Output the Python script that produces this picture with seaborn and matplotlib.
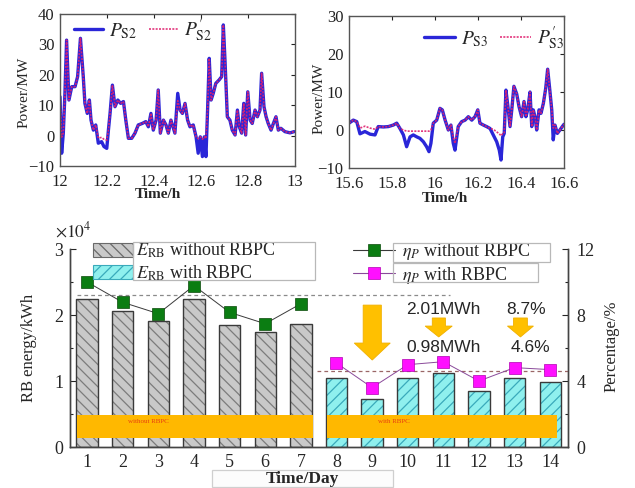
import numpy as np
import pandas as pd
import matplotlib
matplotlib.use("Agg")
import matplotlib.pyplot as plt
import seaborn as sns
from matplotlib.patches import Patch, Polygon, Rectangle
from matplotlib.lines import Line2D
from matplotlib.ticker import FuncFormatter

# ---------------- data ----------------
t_s2 = [12.000, 12.007, 12.014, 12.021, 12.028, 12.038, 12.050, 12.064, 12.075, 12.087,
        12.099, 12.106, 12.116, 12.125, 12.132, 12.142, 12.152, 12.163, 12.177, 12.187,
        12.199, 12.206, 12.213, 12.223, 12.234, 12.246, 12.258, 12.270, 12.280, 12.291,
        12.305, 12.319, 12.333, 12.350, 12.365, 12.376, 12.387, 12.397, 12.409, 12.418,
        12.427, 12.440, 12.451, 12.461, 12.472, 12.489, 12.501, 12.511, 12.521, 12.532,
        12.543, 12.553, 12.567, 12.579, 12.588, 12.597, 12.606, 12.614, 12.621, 12.628,
        12.635, 12.643, 12.652, 12.663, 12.677, 12.688, 12.695, 12.702, 12.712, 12.723,
        12.733, 12.745, 12.755, 12.763, 12.773, 12.782, 12.790, 12.799, 12.809, 12.818,
        12.830, 12.840, 12.851, 12.858, 12.868, 12.877, 12.886, 12.898, 12.908, 12.919,
        12.929, 12.940, 12.957, 12.979, 12.996]
p_s2 = [12.8, -5.8, 0.7, 13.9, 31.4, 11.7, 16.1, 16.1, 19.4, 32.0,
        19.4, 10.6, 7.3, 11.7, 5.1, 1.8, 3.5, -2.5, -2.0, -3.6,
        -4.2, 1.8, 7.3, 16.6, 9.5, 11.7, 10.6, 11.2, 5.1, -0.9,
        -0.9, 0.8, 3.5, 4.0, 4.6, 2.9, 7.3, 1.8, 5.1, 15.0,
        0.8, 5.1, 3.5, 0.8, 5.1, 0.8, 13.9, 8.4, 7.3, 10.6,
        5.1, 2.9, 3.5, -0.4, -5.8, -0.4, -6.9, -0.4, -6.9, 8.4,
        25.4, 11.7, 13.9, 17.2, 18.3, 19.4, 36.4, 24.9, 6.2, 5.1,
        1.8, 0.2, 8.4, 2.9, 0.8, 10.6, 0.2, 14.4, 5.1, 4.0,
        8.4, 6.2, 8.4, 20.5, 9.5, 6.2, 4.0, 1.8, 4.0, 6.2,
        1.8, 2.4, 1.3, 0.9, 1.3]
p_s2_prime = [12.8, -0.5, 0.7, 13.9, 31.4, 11.7, 16.1, 16.1, 19.4, 32.0,
              19.4, 10.6, 7.3, 11.7, 5.1, 1.8, 3.5, -0.8, -0.6, -1.2,
              -1.5, 1.8, 7.3, 16.6, 9.5, 11.7, 10.6, 11.2, 5.1, -0.9,
              -0.9, 0.8, 3.5, 4.0, 4.6, 2.9, 7.3, 1.8, 5.1, 15.0,
              0.8, 5.1, 3.5, 0.8, 5.1, 0.8, 11.5, 8.4, 7.3, 10.6,
              5.1, 2.9, 3.5, -0.4, -1.0, -0.4, -1.2, -0.4, -1.0, 8.4,
              25.4, 11.7, 13.9, 17.2, 18.3, 19.4, 36.4, 24.9, 6.2, 5.1,
              1.8, 0.2, 8.4, 2.9, 0.8, 10.6, 0.2, 14.4, 5.1, 4.0,
              8.4, 6.2, 8.4, 20.5, 9.5, 6.2, 4.0, 1.8, 4.0, 6.2,
              1.8, 2.4, 1.3, 0.9, 1.3]

t_s3 = [15.600, 15.620, 15.636, 15.651, 15.674, 15.698, 15.721, 15.736, 15.760, 15.783,
        15.806, 15.822, 15.837, 15.853, 15.868, 15.884, 15.899, 15.915, 15.930, 15.946,
        15.961, 15.972, 15.981, 15.992, 16.008, 16.023, 16.034, 16.047, 16.062, 16.074,
        16.085, 16.093, 16.108, 16.124, 16.140, 16.155, 16.171, 16.186, 16.199, 16.209,
        16.225, 16.240, 16.256, 16.271, 16.287, 16.299, 16.307, 16.315, 16.322, 16.330,
        16.341, 16.349, 16.357, 16.367, 16.380, 16.391, 16.403, 16.414, 16.423, 16.431,
        16.442, 16.450, 16.457, 16.465, 16.473, 16.484, 16.493, 16.504, 16.515, 16.524,
        16.534, 16.543, 16.550, 16.558, 16.569, 16.581, 16.592, 16.600]
p_s3 = [1.8, 2.6, 2.2, -1.0, -0.4, -1.1, -1.3, 0.9, 0.8, 0.9,
        1.3, 1.8, 0.4, -1.3, -4.4, -1.8, -1.3, -1.8, -2.2, -3.1,
        -4.4, -5.7, -3.5, 1.8, 2.6, 5.7, 5.3, 2.6, 0.0, 1.3,
        -3.5, -5.3, 0.9, 2.2, 2.6, 3.5, 2.6, 3.5, 5.3, 1.8,
        1.3, 0.9, 0.4, -1.3, -3.1, -5.3, -7.9, -1.8, -0.9, 10.5,
        5.3, 0.9, 5.3, 11.5, 9.5, 6.1, 3.5, 7.5, 3.5, 5.3,
        10.0, 0.9, 5.3, 3.5, 0.0, 5.3, 4.4, 7.0, 11.0, 16.0,
        10.5, 5.3, -2.6, 1.3, -0.9, 0.0, 0.9, 1.5]
p_s3_prime = [1.8, 2.6, 2.2, 0.5, 1.0, 0.5, 0.2, 0.9, 0.8, 0.9,
              1.3, 1.8, 0.4, 0.0, -0.3, -0.3, -0.3, -0.3, -0.3, -0.3,
              -0.3, -0.3, 0.0, 1.8, 2.6, 5.7, 5.3, 2.6, 0.0, 1.3,
              -2.0, -3.5, 0.9, 2.2, 2.6, 3.5, 2.6, 3.5, 5.3, 1.8,
              1.3, 0.9, 0.4, 0.2, -0.5, -1.0, -1.5, -1.0, -0.9, 10.5,
              5.3, 0.9, 5.3, 11.5, 9.5, 6.1, 3.5, 7.5, 3.5, 5.3,
              10.0, 0.9, 5.3, 3.5, 0.0, 5.3, 4.4, 7.0, 11.0, 16.0,
              10.5, 5.3, 0.5, 1.3, -0.9, 0.0, 0.9, 1.5]

s2_xticks = [12, 12.2, 12.4, 12.6, 12.8, 13]
s2_xticklabels = ["12", "12.2", "12.4", "12.6", "12.8", "13"]
s2_yticks = [-10, 0, 10, 20, 30, 40]
s3_xticks = [15.6, 15.8, 16.0, 16.2, 16.4, 16.6]
s3_xticklabels = ["15.6", "15.8", "16", "16.2", "16.4", "16.6"]
s3_yticks = [-10, 0, 10, 20, 30]

days_without = [1, 2, 3, 4, 5, 6, 7]
days_with = [8, 9, 10, 11, 12, 13, 14]
energy_without = [22400, 20600, 19100, 22400, 18500, 17400, 18700]   # kWh
energy_with = [10400, 7200, 10400, 11200, 8500, 10400, 9800]         # kWh
eta_without = [10.0, 8.77, 8.08, 9.78, 8.16, 7.47, 8.68]             # %
eta_with = [5.09, 3.6, 4.99, 5.17, 4.0, 4.81, 4.69]                  # %
ref_without = 9.2
ref_with = 4.62

# ---------------- style ----------------
sns.set_theme(style="white")
plt.rcParams["font.family"] = ["Liberation Serif", "DejaVu Serif"]
plt.rcParams["mathtext.fontset"] = "stix"
plt.rcParams["hatch.linewidth"] = 0.9
plt.rcParams["axes.edgecolor"] = "#333333"
plt.rcParams["axes.linewidth"] = 1.0

W, H = 635, 488
fig = plt.figure(figsize=(W / 100, H / 100), dpi=100)


def fax(l, t, r, b):
    return fig.add_axes([l / W, 1 - b / H, (r - l) / W, (b - t) / H])


def fp(x, y):
    return (x / W, 1 - y / H)


BLUE = "#2a26d8"
RED = "#e0206e"

# ---------------- top-left ----------------
ax1 = fax(60, 14, 295, 166)
df2 = pd.DataFrame({"t": t_s2, "P": p_s2, "Pp": p_s2_prime})
sns.lineplot(data=df2, x="t", y="P", ax=ax1, color=BLUE, lw=2.4,
             label=r"$P_{\mathrm{S2}}$")
sns.lineplot(data=df2, x="t", y="Pp", ax=ax1, color=RED, lw=1.2, alpha=0.9,
             linestyle=(0, (1.2, 0.8)), label=r"$P_{\mathrm{S2}}^{\prime}$")
ax1.set_xlim(12, 13)
ax1.set_ylim(-10, 40)
ax1.set_xticks(s2_xticks)
ax1.set_xticklabels(s2_xticklabels)
ax1.set_yticks(s2_yticks)
ax1.set_xlabel("")
ax1.set_ylabel("")
ax1.legend(loc="upper left", bbox_to_anchor=fp(74, 17), bbox_transform=fig.transFigure,
           ncol=2, frameon=False, fontsize=14, handlelength=1.5, columnspacing=0.6,
           handletextpad=0.3, borderpad=0, borderaxespad=0)

# ---------------- top-right ----------------
ax2 = fax(349, 16, 564, 168)
df3 = pd.DataFrame({"t": t_s3, "P": p_s3, "Pp": p_s3_prime})
sns.lineplot(data=df3, x="t", y="P", ax=ax2, color=BLUE, lw=2.4,
             label=r"$P_{\mathrm{S3}}$")
sns.lineplot(data=df3, x="t", y="Pp", ax=ax2, color=RED, lw=1.2, alpha=0.9,
             linestyle=(0, (1.2, 0.8)), label=r"$P_{\mathrm{S3}}^{\prime}$")
ax2.set_xlim(15.6, 16.6)
ax2.set_ylim(-10, 30)
ax2.set_xticks(s3_xticks)
ax2.set_xticklabels(s3_xticklabels)
ax2.set_yticks(s3_yticks)
ax2.set_xlabel("")
ax2.set_ylabel("")
ax2.legend(loc="upper left", bbox_to_anchor=fp(424, 25), bbox_transform=fig.transFigure,
           ncol=2, frameon=False, fontsize=14, handlelength=1.6, columnspacing=0.6,
           handletextpad=0.3, borderpad=0, borderaxespad=0)

for ax in (ax1, ax2):
    ax.tick_params(direction="in", top=True, right=True, length=3, width=0.8,
                   labelsize=12, colors="#222222")
    ax.tick_params(axis="x", pad=5.5)
    ax.tick_params(axis="y", pad=4)
    for s in ax.spines.values():
        s.set_color("#555555")
        s.set_linewidth(1.0)

fig.text(*fp(24, 92), "Power/MW", rotation=90, ha="center", va="center", fontsize=11)
fig.text(*fp(319, 98), "Power/MW", rotation=90, ha="center", va="center", fontsize=11)
fig.text(*fp(158, 195), "Time/h", ha="center", va="center", fontsize=11, fontweight="bold")
fig.text(*fp(445, 198), "Time/h", ha="center", va="center", fontsize=11, fontweight="bold")

# ---------------- bottom ----------------
ax3 = fax(70, 249, 568, 447)
GRAY_FACE = "#c9c9c9"
GRAY_HATCH = "#7c7c7c"
CYAN_FACE = "#8ff0ee"
CYAN_HATCH = "#3aaabb"
EDGE = "#3a3a3a"

sns.barplot(x=days_without, y=energy_without, native_scale=True, width=0.6, ax=ax3,
            color=GRAY_FACE, saturation=1, errorbar=None, hatch="\\\\\\",
            edgecolor=GRAY_HATCH, linewidth=0)
sns.barplot(x=days_with, y=energy_with, native_scale=True, width=0.6, ax=ax3,
            color=CYAN_FACE, saturation=1, errorbar=None, hatch="///",
            edgecolor=CYAN_HATCH, linewidth=0)
sns.barplot(x=days_without + days_with, y=energy_without + energy_with, native_scale=True,
            width=0.6, ax=ax3, fill=False, color=EDGE, saturation=1, errorbar=None,
            linewidth=1.0)

ax3.set_xlim(0.52, 14.5)
ax3.set_ylim(0, 30000)
ax3.set_yticks([0, 10000, 20000, 30000])
ax3.yaxis.set_major_formatter(FuncFormatter(lambda v, p: f"{v / 1e4:g}"))
ax3.set_xticks(days_without + days_with)
ax3.set_xticklabels([str(d) for d in days_without + days_with])
ax3.set_xticks([d + 0.5 for d in days_without + days_with[:-1]], minor=True)
ax3.set_yticks([5000, 15000, 25000], minor=True)
ax3.set_xlabel("")
ax3.set_ylabel("")
ax3.spines["top"].set_visible(False)
ax3.tick_params(axis="both", which="major", direction="in", length=4, width=0.8,
                labelsize=13, pad=5)
ax3.tick_params(axis="both", which="minor", direction="in", length=2.5, width=0.8)
ax3.tick_params(axis="x", which="both", top=False)
fig.text(*fp(55, 231), r"$\times10^4$", ha="left", va="center", fontsize=12.5)

ax4 = ax3.twinx()
ax4.set_ylim(0, 12)
ax4.set_yticks([0, 4, 8, 12])
ax4.set_yticks([2, 6, 10], minor=True)
ax4.spines["top"].set_visible(False)
ax4.tick_params(axis="y", which="major", direction="in", length=4, width=0.8,
                labelsize=13, pad=6)
ax4.tick_params(axis="y", which="minor", direction="in", length=2.5, width=0.8)
for ax in (ax3, ax4):
    for s in ax.spines.values():
        s.set_color("#444444")

ORANGE = "#ffb800"
# highlight bands
ax4.add_patch(Rectangle((0.72, 0.545), 7.35 - 0.72, 1.94 - 0.545, facecolor=ORANGE,
                        edgecolor="none", zorder=1))
ax4.add_patch(Rectangle((7.74, 0.545), 14.2 - 7.74, 1.94 - 0.545, facecolor=ORANGE,
                        edgecolor="none", zorder=1))
ax4.text(2.72, 1.52, "without RBPC", color="#e84010", fontsize=5, ha="center",
         va="center", zorder=2)
ax4.text(9.62, 1.52, "with RBPC", color="#e84010", fontsize=5, ha="center",
         va="center", zorder=2)

# reference dashed lines
ax4.hlines(ref_without, 0.72, 11.2, colors="#8a8a8a", linestyles=(0, (3, 2.5)), lw=0.9)
ax4.hlines(ref_with, 7.46, 14.5, colors="#9a6666", linestyles=(0, (3, 2.5)), lw=0.9)

# efficiency markers
sns.lineplot(x=days_without, y=eta_without, ax=ax4, color="#3a3a3a", lw=0.7,
             marker="s", markersize=8, markerfacecolor="#0b7d12",
             markeredgecolor="#0a4a0a", markeredgewidth=0.5, zorder=5)
sns.lineplot(x=days_with, y=eta_with, ax=ax4, color="#8a4a9a", lw=0.7,
             marker="s", markersize=8, markerfacecolor="#ff10ff",
             markeredgecolor="#b000b0", markeredgewidth=0.5, zorder=5)
ax4.set_ylabel("")


def down_arrow(ax, xl, xr, sl, sr, top, neck, tip):
    pts = [(sl, top), (sr, top), (sr, neck), (xr, neck), ((xl + xr) / 2, tip),
           (xl, neck), (sl, neck)]
    ax.add_patch(Polygon(pts, closed=True, facecolor="#ffc000", edgecolor="#f0b000",
                         lw=0.6, zorder=4))


down_arrow(ax4, 8.50, 9.51, 8.75, 9.26, 8.6, 6.3, 5.27)
down_arrow(ax4, 10.49, 11.25, 10.69, 11.06, 7.82, 7.33, 6.67)
down_arrow(ax4, 12.80, 13.53, 12.97, 13.36, 7.82, 7.33, 6.67)

sans = ["Liberation Sans", "DejaVu Sans"]
ax4.text(11.01, 8.36, "2.01MWh", family=sans, fontsize=12.5, ha="center", va="center")
ax4.text(11.01, 6.06, "0.98MWh", family=sans, fontsize=12.5, ha="center", va="center")
ax4.text(13.32, 8.36, "8.7%", family=sans, fontsize=12.5, ha="center", va="center")
ax4.text(13.44, 6.06, "4.6%", family=sans, fontsize=12.5, ha="center", va="center")

# legends
bar_handles = [Patch(facecolor=GRAY_FACE, hatch="\\\\\\", edgecolor="#6a6a6a", lw=0.8),
               Patch(facecolor=CYAN_FACE, hatch="///", edgecolor=CYAN_HATCH, lw=0.8)]
leg1 = ax4.legend(bar_handles, [r"$E_{\mathrm{RB}}$ without RBPC", r"$E_{\mathrm{RB}}$ with RBPC"],
                  loc="upper left", bbox_to_anchor=fp(93, 241), bbox_transform=fig.transFigure,
                  frameon=False, fontsize=13, handlelength=2.2, handleheight=0.8,
                  handletextpad=0.2, labelspacing=0.15, borderpad=0, borderaxespad=0)
ax4.add_artist(leg1)
line_handles = [Line2D([], [], color="#3a3a3a", lw=0.8, marker="s", markersize=8,
                       markerfacecolor="#0b7d12", markeredgecolor="#0a4a0a", markeredgewidth=0.5),
                Line2D([], [], color="#8a4a9a", lw=0.8, marker="s", markersize=8,
                       markerfacecolor="#ff10ff", markeredgecolor="#b000b0", markeredgewidth=0.5)]
ax4.legend(line_handles, [r"$\eta_P$ without RBPC", r"$\eta_P$ with RBPC"],
           loc="upper left", bbox_to_anchor=fp(353, 241), bbox_transform=fig.transFigure,
           frameon=False, fontsize=13, handlelength=2.3, handletextpad=0.4,
           labelspacing=0.15, borderpad=0, borderaxespad=0)

for (l, t, r, b) in [(133, 242, 315, 280), (393, 243, 550, 262), (393, 263, 538, 282)]:
    fig.add_artist(Rectangle(fp(l, b), (r - l) / W, (b - t) / H, transform=fig.transFigure,
                             fill=False, edgecolor="#b8b8b8", lw=0.9))

fig.text(*fp(29, 348), "RB energy/kWh", rotation=90, ha="center", va="center", fontsize=12)
fig.text(*fp(612, 346), "Percentage/%", rotation=90, ha="center", va="center", fontsize=12)

fig.add_artist(Rectangle(fp(212, 487), (393 - 212) / W, (487 - 470) / H,
                         transform=fig.transFigure, facecolor="#fcfcfc",
                         edgecolor="#cfcfcf", lw=0.9))
fig.text(*fp(302, 479), "Time/Day", ha="center", va="center", fontsize=12.5,
         fontweight="bold")

fig.savefig("out.png", dpi=100)
